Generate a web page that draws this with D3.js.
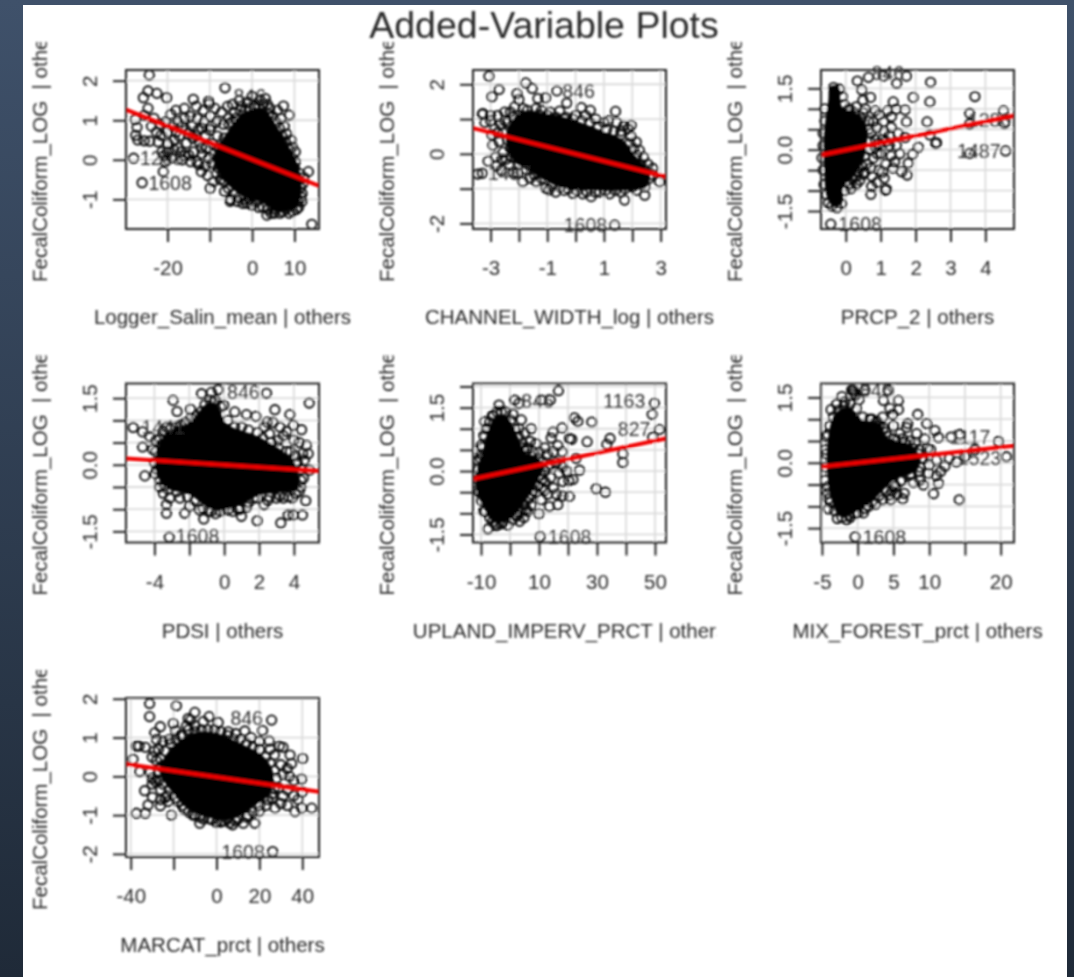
<!DOCTYPE html>
<html>
<head>
<meta charset="utf-8">
<script src="https://cdn.jsdelivr.net/npm/d3@7"></script>
<style>
  html, body { margin: 0; padding: 0; background: #2c3a4c; overflow: hidden; }
  text { font-family: "Liberation Sans", Arial, sans-serif; fill: #2b2b2b; }
</style>
</head>
<body>
<script>
// values, x then y in each point's own units

var salinPts = [[-24.3,2.14],[-24.6,1.74],[-22.5,1.68],[-25.7,1.57],[-20.2,1.57],[-6.4,1.82],[-28,0.04],[-26,-0.58],[-21,-0.3],[-9.9,-0.72],[14.1,-1.63],[13.3,-0.3],[3.5,-1.4],[7.4,1.36],[8.8,1.13],[3.1,1.55],[-13.9,1.53],[-10.3,1.48],
[-27.6,1.02],[-27.2,0.82],[-27.5,0.62],[-27,0.5],[-25.5,0.48],[-24.2,0.47],[-23.8,0.85],[-24.6,1.3],[-25.5,1.12],[-23.2,1.05],[-22.6,0.7],[-21.8,0.9],[-22.2,0.45],[-21.3,0.2],[-20.8,0.1],[-20.5,-0.05],[-21.5,0.62],[-20.5,0.95],[-20,0.7],[-19.8,0.4],[-19.2,1.15],[-18.8,0.85],[-18.4,0.5],[-18.5,0.25],[-18,1.25],[-17.5,0.95],[-17.2,0.6],[-16.8,0.2],[-16.5,0],[-16,1.3],[-16,1.05],[-15.6,0.75],[-15.5,0.42],[-15,0.12],[-14.6,1.1],[-14.2,0.85],[-14,0.55],[-13.8,0.2],[-13.2,1.35],[-13,1.05],[-12.8,0.75],[-12.5,0.45],[-12.6,-0.12],[-12,-0.3],[-11.8,0.15],[-11.5,1.25],[-11.4,0.95],[-11,0.62],[-10.8,0.3],[-10.5,-0.4],[-10.2,1.4],[-9.8,1.1],[-9.6,0.85],[-9.4,0.4],[-9.2,-0.55],[-8.8,1.3],[-8.5,0.95],[-8.2,0.6],[-8,-0.2],[-7.5,-0.5],[-7.2,1.2],[-6.8,0.9],[-6.5,-0.8],[-5.8,1.35],[-5.5,1.05],[-5,-1.0],[-5.2,-1.05],[-4.6,1.4],[-4.2,1.2],[-3.5,-1.05],[-3,1.5],[-2.5,1.35],[-2.2,-1.1],[-1.2,-1.1],[-1,1.45],[0,1.6],[0,-1.15],[0.8,1.4],[1.5,-1.2],[1.8,1.5],[3.6,1.4],[4.2,1.3],[4.5,-1.35],[5.2,-1.35],[6,1.25],[6.8,1.05],[6.6,-1.35],[7.6,0.85],[8,-1.25],[8.2,0.65],[9.2,0.5],[10.2,0.2],[10.5,-1.25],[11,-1.2],[10.2,-0.05],[11.6,-0.95],[11.8,-1.05],[11.2,-0.35],[12,-0.6],[12.2,-0.45],[9.5,0.32],
[-7,0.3],[-6.6,0.55],[-7.5,0.1],[-6.8,-0.1],[-6.2,-0.4],[-7,-0.35],[-5.5,0.9],[-4.8,0.95],[-3.8,1.05],[-2.8,1.25],[-1.6,1.25],[-0.5,1.3],[0.6,1.35],[1.6,1.35],[2.6,1.4],[3.8,1.15],[4.8,1.1],[5.6,0.95],[6.4,0.8],[7,0.6],[7.8,0.45],[8.8,0.25],[9.4,0.05],[10,-0.2],[10.8,-0.5],[11.4,-0.7],[11.8,-0.85],[10.8,-1.05],[9.6,-1.3],[8.8,-1.35],[7.2,-1.3],[5.6,-1.25],[3.8,-1.25],[2.6,-1.2],[1,-1.05],[-0.6,-1],[-1.8,-1],[-3,-0.95],[-4.2,-0.85],[-5.6,-0.72],[-6.5,-0.55],[-8.5,-0.35],[-9.5,-0.1],[-10.2,0.05],[-11,-0.15],[-13,-0.05],[-14.5,-0.05],[-16,0.1],[-17.5,0.3],[-19,0.05],[-20,0.2],[-12,0.3],[-13.2,0.6],[-15,0.65],[-16.5,0.85],[-18,0.7],[-10,0.75],[-11.8,0.8],[-9,0.15],[-8,0.3]];
var salinCore = [[-9.1,0.08],[-6,0.68],[-2,1.19],[2.7,1.27],[5.8,0.85],[8.2,0.42],[10.6,-0.08],[11.7,-0.68],[10.6,-1.19],[5.8,-1.31],[2.7,-1.1],[-2,-0.93],[-5.2,-0.68],[-8.3,-0.25]];

var channelPts = [[-3.06,2.23],[-2.7,1.85],[-2.95,1.64],[-1.76,2.04],[-1.53,1.88],[-2.07,1.73],[-2,1.56],[-1.33,1.59],[-1.06,1.61],[-0.66,1.81],[-0.31,1.46],[1.41,1.22],[0.2,1.33],[0.52,1.25],[-0.56,1.23],[-3.29,1.14],[-3.27,1.16],[-3.29,-0.56],[-3.45,-0.58],[-2.92,0.25],[-2.82,-0.09],[-3.09,-0.21],[-2.62,-0.47],[-1.86,-0.8],[-1.39,-0.8],[-0.94,-1.04],[-0.09,-1.14],[0.55,-1.23],[1.73,-1.33],[2.44,-1.19],[2.73,-0.42],[2.96,-0.8],[2.14,0.34],[1.96,0.82],[1.38,-2.05],
[-3,1.1],[-2.75,1.1],[-2.5,1.2],[-2.3,1.2],[-2.65,0.85],[-2.85,0.72],[-2.4,0.9],[-2.15,1.35],[-1.85,1.3],[-1.7,1.25],[-1.4,1.3],[-1.2,1.25],[-0.9,1.2],[-0.35,1.05],[0,1.1],[0.35,1.1],[0.7,1],[1,0.9],[1.15,0.95],[1.45,0.9],[1.7,0.8],[1.85,0.72],[1.6,0.65],[1.95,0.5],[2.25,0.1],[2.4,-0.1],[2.55,-0.3],[2.45,-0.55],[2.7,-0.6],[2.3,-0.75],[2.15,-1.05],[2.45,-0.95],[1.6,-1.1],[1.2,-1.15],[0.85,-1.1],[0.25,-1.15],[-0.4,-1.05],[-0.7,-1.1],[-1.05,-0.98],[-1.6,-0.7],[-2.05,-0.55],[-2.35,-0.3],[-2.55,0.05],[-2.7,0.35],[-2.45,-0.15],
[-2.5,0.95],[-2.2,1.05],[-1.9,1.1],[-1.6,1.1],[-1.3,1.12],[-1,1.1],[-0.7,1.05],[-0.4,1],[-0.1,1],[0.2,0.95],[0.5,0.9],[0.8,0.8],[1.1,0.7],[1.35,0.65],[1.6,0.55],[1.9,0.3],[2.05,0.15],[2.15,-0.05],[2.3,-0.3],[2.4,-0.45],[2.6,-0.7],[2.35,-0.85],[2,-0.95],[1.75,-1],[1.4,-1.05],[1.05,-1.05],[0.7,-1.1],[0.4,-1.08],[0.05,-1.05],[-0.25,-1],[-0.55,-0.95],[-0.85,-0.9],[-1.2,-0.7],[-1.45,-0.6],[-1.75,-0.45],[-2,-0.3],[-2.25,-0.1],[-2.3,0.15],[-2.4,0.4],[-2.55,0.6],[-2.75,0.6],[-2.95,0.55],[-3,0.95],[-3.2,0.9],[-2.6,-0.15],[-2.2,-0.55],[-2.8,-0.35]];
var channelCore = [[-2.45,0.58],[-1.98,1.16],[-1.04,1.16],[-0.09,0.97],[0.85,0.68],[1.67,0.39],[2.14,-0.09],[2.61,-0.56],[2.49,-0.95],[1.79,-1.04],[0.61,-1.04],[-0.56,-0.95],[-1.51,-0.56],[-2.21,-0.18]];

var prcpPts = [[2.43,1.65],[2.41,1.17],[2.33,0.68],[1.93,1.28],[3.7,1.3],[3.55,0.89],[3.55,0.63],[4.52,0.95],[4.55,0.64],[4.58,-0.03],[3.55,-0.09],[2.58,0.15],[2.6,0.17],[2.41,0.36],[2.08,0.06],[1.91,-0.11],[1.79,-0.33],[1.76,-0.62],[1.6,-0.54],[1.17,-0.97],[1.13,-0.99],[0.74,-0.9],[0.72,-1.09],[-0.43,-1.82],[0.33,1.68],[0.65,1.77],[1.08,1.8],[1.74,1.8],[1.46,1.62],[0.46,1.46],[0.49,1.21],[0.71,1.28],[1.36,1.17],[1.44,0.99],[1.7,0.97],[1.31,0.81],[1.74,0.68],[0.79,0.68],[1.08,0.68],[-0.35,1.52],[-0.18,1.48],
[0.1,1],[0.3,1.05],[0.5,0.9],[0.9,0.55],[1.1,0.45],[1.3,0.55],[1.5,0.4],[1.7,0.3],[1.05,0.25],[0.85,0.25],[1.25,0.1],[1.45,0.1],[1.55,-0.1],[1.3,-0.15],[1,-0.1],[0.8,-0.2],[1.15,-0.35],[1.35,-0.45],[0.95,-0.5],[0.72,-0.45],[0.75,-0.65],[1.1,-0.7],[0.4,-0.75],[0.55,-0.55],[0.15,-0.95],[0.3,-0.85],[0.95,0.85],[1.2,0.95],[0.2,0.7],[0.72,0.4],
[-0.6,1],[-0.6,0.7],[-0.65,0.4],[-0.65,0.1],[-0.68,-0.2],[-0.65,-0.5],[-0.62,-0.85],[-0.55,-1.1],[-0.5,-1.3],[-0.4,-1.38],[-0.25,-1.42],[-0.12,-1.32],[-0.03,-1],[0.1,-0.85],[0.2,-0.7],[0.35,-0.55],[0.45,-0.4],[0.55,-0.15],[0.68,0],[0.68,0.2],[0.65,0.5],[0.45,0.75],[0.25,0.9],[0.05,0.95],[-0.05,1.1],[-0.1,1.3],[0.85,0.05],[0.95,0.15],[0.9,-0.1],[0.6,-0.35],[0.5,-0.6],[0.3,-0.65],[0.65,0.7],[0.55,1.0],[0.85,0.95],[1.25,0.35],[1.15,0.2],[1.4,-0.3],[1.05,-0.55],[0.9,-0.8]];
var prcpCore = [[-0.5,1.21],[-0.45,1.54],[-0.21,1.54],[-0.11,1.05],[0.31,0.89],[0.6,0.56],[0.6,0.15],[0.5,-0.25],[0.22,-0.66],[-0.07,-0.91],[-0.11,-1.31],[-0.35,-1.39],[-0.54,-1.15],[-0.62,-0.42],[-0.62,0.4]];

var pdsiPts = [[-5.22,0.84],[-4.68,0.74],[-4.26,0.63],[-4.68,0.4],[-4.55,-0.25],[-2.93,1.45],[-2.7,1.2],[-1.93,1.25],[-1.3,1.6],[-0.73,1.63],[-0.34,1.69],[2.43,1.61],[4.88,1.39],[2.91,1.24],[3.77,1.13],[3.96,0.89],[4.44,0.79],[1.28,1.13],[1.82,1.09],[2.47,0.96],[0.61,1.19],[-0.02,1.34],[-0.63,1.41],[-3.15,-1.63],[-3.31,-0.9],[-3.31,-1.09],[-2.26,-1.09],[-1.17,-1.22],[0.99,-1.16],[1.89,-1.26],[3.25,-1.31],[3.67,-1.13],[3.96,-1.13],[4.49,-1.13],[4.68,-0.81],[2.29,-0.9],[-1.97,-0.93],[-2.54,-0.75],[-3.12,-0.75],[-3.5,-0.64],[-2.39,-0.48],[4.82,0.25],[4.72,0.44],[4.91,-0.12],
[-3.9,0.55],[-3.6,0.45],[-3.3,0.85],[-3.1,0.65],[-2.8,0.85],[-2.5,0.9],[-3.85,-0.1],[-3.7,-0.35],[-3.4,-0.45],[0.5,-1.05],[0.8,-1],[1.4,-0.85],[1.7,-0.75],[2.6,-0.72],[3,-0.75],[3.4,-0.75],[3.7,-0.72],[4.1,-0.65],[4.4,-0.5],[4.55,-0.3],[4.6,0.1],[4.5,0.25],[4.3,0.5],[4,0.55],[3.6,0.75],[3.2,0.85],[2.8,0.95],[2.3,0.85],[3.4,0.65],[3.1,0.55],[2.6,0.7],[3.8,0.3],[4.1,0.2],[-0.5,-1.1],[-1.4,-1.02],[-0.9,-1.05],
[-3.9,0.3],[-3.7,0.6],[-3.5,0.75],[-3.1,0.8],[-2.6,0.75],[-2.2,0.95],[-1.9,1.05],[-1.6,1.1],[-1.3,1.2],[-1.1,1.35],[-0.8,1.45],[-0.5,1.45],[-0.2,1.3],[0.2,1],[0.6,0.85],[1,0.85],[1.4,0.78],[1.9,0.72],[2.2,0.6],[2.7,0.5],[3.1,0.4],[3.6,0.3],[4.2,0.05],[4.4,-0.1],[4.4,-0.35],[4.3,-0.6],[3.9,-0.75],[3.2,-0.7],[2.5,-0.8],[1.9,-0.75],[1.3,-0.95],[0.9,-1],[0.2,-1.02],[-0.2,-1.05],[-0.75,-1.05],[-1.2,-0.98],[-1.7,-0.8],[-2.1,-0.72],[-2.7,-0.6],[-3.2,-0.55],[-3.7,-0.5],[-3.95,-0.2],[-4,0.05],[-3.5,0.2],[-4.1,0.35]];
var pdsiCore = [[-3.88,0.25],[-3.31,0.72],[-1.97,0.95],[-1.01,1.37],[-0.44,1.37],[0.13,0.93],[1.85,0.65],[3.2,0.35],[4.1,0],[4.2,-0.55],[3.38,-0.62],[2.05,-0.68],[0.9,-0.9],[-0.63,-1.01],[-1.97,-0.68],[-3.31,-0.52],[-3.88,-0.19]];

var impervPts = [[16.7,1.9],[10.8,1.68],[13.9,1.68],[1.6,1.68],[3.1,1.6],[-3.8,1.56],[49.8,1.6],[49,1.34],[51.5,0.98],[49.2,0.8],[28.2,1.16],[22.2,1.26],[23.4,1.17],[18,1.02],[14.8,0.92],[14.2,0.78],[20.5,0.77],[21.3,0.75],[26.6,0.69],[34.5,0.77],[33.4,0.63],[38.9,0.41],[38.9,0.2],[29.7,-0.42],[32.9,-0.5],[24,0.02],[22.8,0.3],[21.7,-0.2],[20.3,-0.23],[18.2,-0.25],[20.5,-0.6],[18.2,-0.59],[16.5,-0.8],[13.6,-0.84],[10,-1.01],[10.8,-0.68],[7.3,-0.81],[10.4,-1.55],[-7.6,-1.37],[-4.7,-1.3],[-8.7,1.17],[-6.1,1.31],[1,1.35],[3.9,1.21],[7.3,1],[3.3,-1.19],[-2.4,-1.21],[-9.1,-0.95],
[5,0.9],[7,0.7],[9,0.65],[6,0.55],[10,0.45],[12,0.55],[13,0.4],[15,0.45],[16.5,0.6],[18,0.45],[16,0.2],[14,0.15],[18,0.1],[19.5,0],[17,-0.05],[14,-0.15],[12,-0.25],[15,-0.4],[13,-0.55],[9,-0.5],[11,-0.4],[7.5,-0.55],[5.5,-0.9],[4.8,-1.1],[2,-1.05],[-6,-1.2],[-8,-0.7],[-10.5,-0.5],[-11,0.25],[-10,0.6],[-9,0.85],[-10,0.4],[4.5,0.55],[3,1],[16,-0.55],
[-11,-0.2],[-10.8,0.05],[-10.2,0.3],[-9.5,0.55],[-8.8,0.8],[-8,1],[-7,1.15],[-5.8,1.3],[-4.5,1.4],[-3,1.4],[-1.5,1.4],[0.2,1.2],[1.5,1],[3,0.8],[4.2,0.65],[6,0.5],[8,0.45],[10,0.3],[11,0.2],[12,0],[11,-0.2],[9.5,-0.35],[8,-0.45],[6.5,-0.65],[5,-0.8],[3.8,-0.95],[2.5,-1.05],[1,-1.15],[-0.8,-1.28],[-3,-1.25],[-5,-1.25],[-7,-1.1],[-8.5,-0.95],[-9.8,-0.7],[-11,-0.45],[8,0.15],[10.5,-0.1],[13,0.1],[12,-0.45],[6,-0.95]];
var impervCore = [[-11.6,-0.05],[-9.3,0.49],[-7.6,0.96],[-4.7,1.31],[-1.3,1.31],[2.2,0.88],[5.6,0.41],[9.1,0.34],[11.4,0.1],[9.1,-0.29],[5.6,-0.68],[2.2,-0.99],[-1.3,-1.19],[-5.8,-1.19],[-9.3,-0.84],[-11.6,-0.45]];

var forestPts = [[-0.37,-1.7],[14.2,-0.85],[20.8,0.14],[19.7,0.49],[13.05,0.59],[14.3,0.65],[11.3,0.58],[10.8,0.74],[9.65,0.9],[8.4,1.11],[9.4,0.55],[9.74,0.33],[10.6,-0.71],[11.3,-0.47],[9.9,-0.24],[12.2,-0.08],[11,0.06],[13.8,0.02],[15,0.14],[16.4,0.3],[6.3,-0.83],[4.5,-0.74],[1.5,-1],[-4.1,-1.06],[-4.1,-0.83],[-2.84,-1.28],[-1.54,-1.31],[-0.37,-1.16],[4.3,1.66],[3.6,1.43],[5.7,1.43],[4.5,1.25],[5.7,1.22],[4.9,1.11],[-0.6,1.66],[1,1.67],[-2.2,1.52],[-2.94,1.35],[-3.73,1.22],[-0.84,1.67],[2.42,0.91],[5.9,0.67],[6.85,0.81],[8.25,0.67],[8.7,-0.4],[9.2,-0.51],[7.3,-0.28],
[-4.2,0.65],[-4.4,0.2],[-4.5,-0.4],[-4.2,-0.55],[-0.5,1.6],[-0.3,1.55],[-1.8,1.4],[3,0.85],[4,0.7],[5,0.85],[6.3,0.55],[7.3,0.5],[8,0.45],[8.5,0.2],[9.2,0.1],[7.8,0.05],[8.7,-0.1],[7,-0.15],[6.2,-0.4],[7.8,-0.45],[5.3,-0.55],[4.8,-0.65],[4.6,-0.85],[3.5,-0.85],[2.5,-0.95],[0.8,-1.15],[-1,-1.25],[10.2,0.3],[11.6,-0.2],[12.8,0.1],[6,0.25],[2,1],
[-4.4,0.6],[-3.9,0.85],[-3.4,1.05],[-2.7,1.2],[-1.9,1.3],[-1,1.35],[-0.2,1.25],[0.7,1.05],[1.7,1],[2.7,0.95],[3.6,0.8],[4.4,0.6],[5.2,0.55],[6.6,0.45],[7.6,0.35],[8.6,0.3],[8.9,0.1],[8.5,-0.2],[7.5,-0.25],[6,-0.42],[5,-0.5],[4,-0.65],[3,-0.75],[2,-0.9],[1,-1.05],[0,-1.15],[-1.2,-1.2],[-2.2,-1.25],[-3.2,-1.1],[-3.8,-0.9],[-4.2,-0.7],[-4.5,-0.1],[-4.5,0.3],[10,-0.05],[11,-0.3],[6.5,-0.7],[5.5,-0.72],[7,0.9],[3.5,1.05],[0.2,1.45]];
var forestCore = [[-4.1,0.59],[-3.17,1.12],[-1.31,1.28],[0.79,0.97],[3.12,0.9],[4.06,0.59],[6.85,0.44],[8.72,0.14],[8.25,-0.17],[5.92,-0.32],[4.52,-0.47],[2.66,-0.78],[0.33,-1.08],[-2.47,-1.23],[-3.64,-0.85],[-4.24,-0.24]];

var marcatPts = [[-31.2,1.88],[-18.7,1.82],[-31.2,1.54],[-10.1,1.65],[-3.4,1.54],[0.8,1.39],[25.7,1.45],[-13.2,1.49],[-20.2,1.36],[-26.2,1.28],[-28.8,1.12],[-19,1.18],[-6.2,1.41],[13.2,1.17],[21.5,1.18],[5.5,1.15],[24.6,0.91],[29.3,0.78],[34.3,0.55],[35,0.33],[40.2,0.46],[39.7,-0.07],[36.1,-0.11],[44.4,-0.82],[36.6,-0.91],[39.7,-0.82],[27.3,-0.82],[17.9,-1.21],[12.5,-1.21],[7.5,-1.25],[0,-1.19],[-7.8,-1.21],[-21,-1],[-37.4,-0.95],[-33.2,-0.95],[-31.9,-0.74],[-26.2,-0.76],[-29.9,-0.54],[-33.5,-0.37],[-28.3,-0.14],[-35.8,0.12],[-38.9,0.44],[-37.4,0.78],[-36.1,0.78],[-33.2,0.75],[26.2,-1.94],
[-12,1.45],[-14,1.3],[-10,1.3],[-17,1.05],[-22,0.95],[-25,0.9],[-28,0.95],[-27,0.7],[-30,0.5],[-28,0.4],[-31,0.1],[-30,-0.2],[-26,0.25],[-26,-0.35],[-24,-0.55],[-22.5,-0.65],[-18,-0.65],[-15,-0.85],[-11,-1],[-8,-1.05],[-3,-1.1],[3,-1.15],[5,-1.1],[10,-1.1],[15,-1],[20,-0.9],[23,-0.75],[26,-0.55],[30,-0.7],[33,-0.75],[31,-0.5],[29,-0.3],[33,-0.35],[36,-0.5],[38,-0.6],[40,-0.4],[34,0],[30,0.3],[31,0.05],[33,0.2],[27,0.55],[25,0.7],[20,0.9],[16,1],[31,0.75],[9,1.1],
[-27,0.1],[-26,0.45],[-24,0.65],[-21.5,0.85],[-19,0.95],[-16,1.05],[-13,1.2],[-10,1.15],[-7,1.2],[-4,1.2],[-1,1.2],[2,1.15],[5,1.05],[8,0.95],[11,0.95],[14,0.85],[17,0.75],[20,0.7],[23,0.5],[25,0.35],[27,0.15],[28,-0.05],[27,-0.3],[26,-0.45],[24,-0.6],[20,-0.75],[17,-0.92],[14,-1.05],[9,-1.15],[6,-1.2],[2,-1.18],[-2,-1.12],[-6,-1.1],[-10,-1],[-13,-0.92],[-16,-0.75],[-19,-0.55],[-22,-0.35],[-25,-0.2],[-27,-0.1],[-23,-0.5],[-29,0.65],[-24,0.3],[-30,-0.05],[-26,-0.6]];
var marcatCore = [[-26.5,0.16],[-21.8,0.68],[-10.9,1.11],[0,1.11],[10.9,0.85],[21.8,0.51],[26.5,0.08],[24.9,-0.44],[17.1,-0.78],[6.2,-1.12],[-4.7,-1.04],[-12.5,-0.87],[-20.2,-0.44],[-24.9,-0.09]];

// fitted lines, value at the left and right edge of each plot
var salinFit = [[-29.8,1.27],[15.8,-0.66]];
var channelFit = [[-3.62,0.74],[3.19,-0.66]];
var prcpFit = [[-0.71,-0.13],[4.82,0.83]];
var pdsiFit = [[-5.63,0.14],[5.44,-0.14]];
var impervFit = [[-12.76,-0.19],[53.8,0.77]];
var forestFit = [[-5.13,-0.09],[21.86,0.39]];
var marcatFit = [[-42.2,0.32],[47.8,-0.4]];

// id labels: text, x, y
var salinIds = [["846",-4.4,1.61],["1208",-26.5,0.04],["1608",-24.5,-0.58]];
var channelIds = [["846",-0.47,1.81],["1608",-0.42,-2.05],["1487",-3.1,-0.56]];
var prcpIds = [["846",0.74,1.88],["1608",-0.21,-1.82],["1487",3.19,-0.03],["1280",3.5,0.72]];
var pdsiIds = [["846",0.17,1.63],["1608",-2.77,-1.6],["1441",-4.74,0.85]];
var impervIds = [["846",3.9,1.65],["1163",32.2,1.65],["827",37.2,1],["1608",13.1,-1.55]];
var forestIds = [["846",0.3,1.67],["1608",0.7,-1.7],["1117",12.9,0.6],["1523",14,0.1]];
var marcatIds = [["846",6.5,1.51],["1608",2.3,-1.94]];

var xNames = ["Logger_Salin_mean | others", "CHANNEL_WIDTH_log | others", "PRCP_2 | others", "PDSI | others", "UPLAND_IMPERV_PRCT | others", "MIX_FOREST_prct | others", "MARCAT_prct | others"];

var xDomains = [[-29.8,15.8],[-3.62,3.19],[-0.71,4.82],[-5.63,5.44],[-12.76,53.8],[-5.13,21.86],[-42.2,47.8]];
var yDomains = [[-1.75,2.27],[-2.16,2.41],[-1.94,1.95],[-1.75,1.83],[-1.69,2.07],[-1.83,1.82],[-2.08,2.02]];

var xTicks = [[-20,-10,0,10],[-3,-2,-1,0,1,2,3],[0,1,2,3,4],[-4,-2,0,2,4],[-10,0,10,20,30,40,50],[-5,0,5,10,15,20],[-40,-20,0,20,40]];
var xShown = [[-20,0,10],[-3,-1,1,3],[0,1,2,3,4],[-4,0,2,4],[-10,10,30,50],[-5,0,5,10,20],[-40,0,20,40]];
var yTicks = [[-1,0,1,2],[-2,-1,0,1,2],[-1.5,-1,-0.5,0,0.5,1,1.5],[-1.5,-1,-0.5,0,0.5,1,1.5],[-1.5,-1,-0.5,0,0.5,1,1.5,2],[-1.5,-1,-0.5,0,0.5,1,1.5],[-2,-1,0,1,2]];
var yShown = [[-1,0,1,2],[-2,0,2],[-1.5,0,1.5],[-1.5,0,1.5],[-1.5,0,1.5],[-1.5,0,1.5],[-2,-1,0,1,2]];
var yDecimals = [0,0,1,1,1,1,0];

var allPts = [salinPts, channelPts, prcpPts, pdsiPts, impervPts, forestPts, marcatPts];
var allCores = [salinCore, channelCore, prcpCore, pdsiCore, impervCore, forestCore, marcatCore];
var allFits = [salinFit, channelFit, prcpFit, pdsiFit, impervFit, forestFit, marcatFit];
var allIds = [salinIds, channelIds, prcpIds, pdsiIds, impervIds, forestIds, marcatIds];

var yLabel = "FecalColiform_LOG \u00a0| others";
var title = "Added-Variable Plots";

// layout of the grid of plots
var W = 1074, H = 977;
var plotW = 193, plotH = 159;
var colLeft = [126, 473, 821];
var rowTop = [70, 383.5, 698];

var svg = d3.select("body").append("svg").attr("width", W).attr("height", H).style("display", "block");
var defs = svg.append("defs");

var grad = defs.append("linearGradient").attr("id", "bg").attr("x1", 0).attr("y1", 0).attr("x2", 0).attr("y2", 1);
grad.append("stop").attr("offset", 0).attr("stop-color", "#3f516a");
grad.append("stop").attr("offset", 1).attr("stop-color", "#1f2a38");

defs.append("filter").attr("id", "soft")
    .attr("filterUnits", "userSpaceOnUse")
    .attr("x", 0).attr("y", 0).attr("width", W).attr("height", H)
    .append("feGaussianBlur").attr("stdDeviation", 0.95);

defs.append("clipPath").attr("id", "ylabClip").append("rect")
    .attr("x", -120).attr("y", -28).attr("width", 120).attr("height", 300);
defs.append("clipPath").attr("id", "xlabClip").append("rect")
    .attr("x", -100).attr("y", plotH + 60).attr("width", 344).attr("height", 60);

svg.append("rect").attr("width", W).attr("height", H).attr("fill", "url(#bg)");
svg.append("rect").attr("x", 23).attr("y", 5).attr("width", 1044).attr("height", H - 5).attr("fill", "#fff");

var page = svg.append("g").attr("filter", "url(#soft)");

page.append("text")
    .attr("x", 544).attr("y", 38)
    .attr("text-anchor", "middle")
    .style("font-size", "37.5px")
    .text(title);

xNames.forEach(function (name, i) {
    var g = page.append("g")
        .attr("transform", "translate(" + colLeft[i % 3] + "," + rowTop[Math.floor(i / 3)] + ")");

    var x = d3.scaleLinear().domain(xDomains[i]).range([0, plotW]);
    var y = d3.scaleLinear().domain(yDomains[i]).range([plotH, 0]);

    // light grid
    g.append("g").selectAll("line").data(xTicks[i]).enter().append("line")
        .attr("x1", function (d) { return x(d); }).attr("x2", function (d) { return x(d); })
        .attr("y1", 0).attr("y2", plotH)
        .attr("stroke", "#dcdcdc").attr("stroke-width", 1.8);
    g.append("g").selectAll("line").data(yTicks[i]).enter().append("line")
        .attr("y1", function (d) { return y(d); }).attr("y2", function (d) { return y(d); })
        .attr("x1", 0).attr("x2", plotW)
        .attr("stroke", "#dcdcdc").attr("stroke-width", 1.8);

    // the overplotted middle of the cloud, where the rings run solid
    g.append("path")
        .datum(allCores[i])
        .attr("d", d3.line()
            .x(function (d) { return x(d[0]); })
            .y(function (d) { return y(d[1]); })
            .curve(d3.curveCatmullRomClosed))
        .attr("fill", "#000");

    g.append("g").selectAll("circle").data(allPts[i]).enter().append("circle")
        .attr("cx", function (d) { return x(d[0]); })
        .attr("cy", function (d) { return y(d[1]); })
        .attr("r", 4.7)
        .attr("fill", "none")
        .attr("stroke", "#000")
        .attr("stroke-width", 1.8);

    g.append("g").selectAll("text").data(allIds[i]).enter().append("text")
        .attr("x", function (d) { return x(d[1]); })
        .attr("y", function (d) { return y(d[2]); })
        .attr("dy", "0.36em")
        .style("font-size", "19.5px")
        .text(function (d) { return d[0]; });

    g.append("line")
        .attr("x1", x(allFits[i][0][0])).attr("y1", y(allFits[i][0][1]))
        .attr("x2", x(allFits[i][1][0])).attr("y2", y(allFits[i][1][1]))
        .attr("stroke", "#f00000").attr("stroke-width", 4);

    g.append("rect")
        .attr("width", plotW).attr("height", plotH)
        .attr("fill", "none").attr("stroke", "#222").attr("stroke-width", 2);

    // axes
    var xAxis = d3.axisBottom(x).tickValues(xTicks[i]).tickSize(13)
        .tickFormat(function (d) { return xShown[i].indexOf(d) >= 0 ? String(d) : ""; });
    var xg = g.append("g").attr("transform", "translate(0," + plotH + ")").call(xAxis);
    xg.select(".domain").remove();
    xg.selectAll("line").attr("stroke", "#222").attr("stroke-width", 2);
    xg.selectAll("text").attr("y", 46).attr("dy", 0)
        .attr("font-family", null).style("font-size", "20.5px");

    var yAxis = d3.axisLeft(y).tickValues(yTicks[i]).tickSize(13)
        .tickFormat(function (d) { return yShown[i].indexOf(d) >= 0 ? d.toFixed(yDecimals[i]) : ""; });
    var yg = g.append("g").call(yAxis);
    yg.select(".domain").remove();
    yg.selectAll("line").attr("stroke", "#222").attr("stroke-width", 2);
    yg.selectAll("text")
        .attr("transform", "rotate(-90)")
        .attr("x", 0).attr("y", -29).attr("dy", 0)
        .attr("text-anchor", "middle")
        .style("font-size", "20.5px");

    // axis titles, cut off at the edge of each figure cell like the original
    g.append("g").attr("clip-path", "url(#xlabClip)").append("text")
        .attr("x", plotW / 2).attr("y", plotH + 95)
        .attr("text-anchor", "middle")
        .style("font-size", "20.5px")
        .text(name);

    g.append("g").attr("clip-path", "url(#ylabClip)").append("text")
        .attr("transform", "translate(-79," + (plotH + 53) + ") rotate(-90)")
        .style("font-size", "20.5px")
        .text(yLabel);
});
</script>
</body>
</html>
